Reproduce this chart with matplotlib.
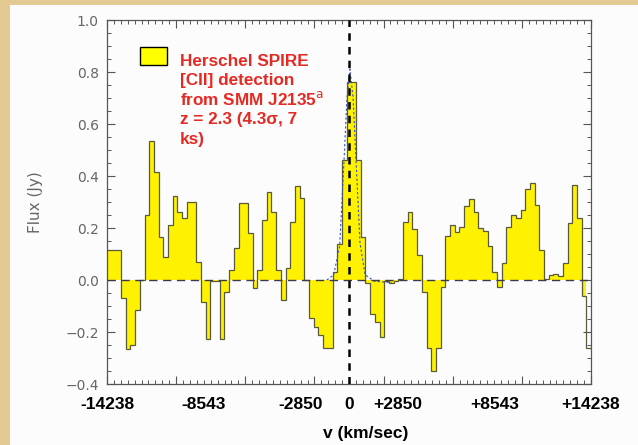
import numpy as np
import matplotlib
matplotlib.use("Agg")
from matplotlib import pyplot as plt
from matplotlib.patches import Rectangle
from matplotlib.ticker import FixedLocator, MultipleLocator
import matplotlib.transforms as mtransforms

# SPIRE FTS spectrum, flux per channel (Jy), channels span the full velocity window
v_min, v_max = -14238, 14238
flux = [
    0.115, 0.115, 0.115, -0.07, -0.265, -0.25, -0.115, 0.0, 0.25, 0.535,
    0.415, 0.165, 0.09, 0.21, 0.325, 0.26, 0.24, 0.30, 0.30, 0.07,
    -0.085, -0.225, -0.005, -0.005, -0.225, -0.045, 0.04, 0.125, 0.295, 0.295,
    0.18, -0.03, 0.04, 0.23, 0.34, 0.26, 0.04, -0.075, 0.045, 0.225,
    0.36, 0.315, 0.0, -0.145, -0.18, -0.21, -0.26, -0.26, 0.03, 0.14,
    0.46, 0.76, 0.76, 0.46, 0.165, -0.01, -0.13, -0.16, -0.22, -0.005,
    -0.01, -0.005, 0.005, 0.225, 0.26, 0.195, 0.095, -0.045, -0.26, -0.35,
    -0.26, -0.025, 0.17, 0.21, 0.185, 0.205, 0.285, 0.31, 0.26, 0.2,
    0.19, 0.13, 0.03, -0.025, 0.065, 0.205, 0.25, 0.24, 0.27, 0.35,
    0.375, 0.29, 0.115, 0.005, 0.02, 0.025, 0.015, 0.065, 0.22, 0.365,
    0.24, -0.06, -0.26,
]

# line fit around the [CII] peak
fit_v = [-1300, -900, -550, -300, -120, 60, 240, 420, 650, 950, 1500, 2500]
fit_flux = [0.0, 0.02, 0.13, 0.45, 0.70, 0.81, 0.70, 0.45, 0.14, 0.02, -0.005, -0.01]

vel_ticks = [-14238, -8543, -2850, 0, 2850, 8543, 14238]
vel_labels = ["-14238", "-8543", "-2850", "0", "+2850", "+8543", "+14238"]

caption = ["Herschel SPIRE", "[CII] detection", "from SMM J2135$^{\\rm a}$",
           "z = 2.3 (4.3σ, 7", "ks)"]

edges = np.linspace(v_min, v_max, len(flux) + 1)

fig = plt.figure(figsize=(6.38, 4.45), dpi=100)
fig.patch.set_facecolor("#e3ca93")
fig.add_artist(Rectangle((10 / 638, 0), 1, 1 - 5 / 445, transform=fig.transFigure,
                         facecolor="#fcfcfc", edgecolor="none", zorder=0))

ax = fig.add_axes([107 / 638, 1 - 384 / 445, 484 / 638, 364 / 445])
ax.set_facecolor("#fcfcfc")

# yellow filled channels (last channel only outlined)
ax.stairs(flux[:-1], edges[:-1], baseline=0, fill=True, color="#fff200", zorder=2)
ax.stairs(flux, edges, baseline=None, color="#5a5a3a", lw=0.9, zorder=3)

ax.plot(fit_v, fit_flux, color="#3050c0", lw=0.8, ls=(0, (2, 2)), zorder=4)
ax.axhline(0, color="#3a3a4a", lw=1.0, ls=(0, (6, 4)), zorder=4)
ax.axvline(0, color="black", lw=1.8, ls=(0, (3, 2.5)), zorder=5)

ax.set_xlim(v_min, v_max)
ax.set_ylim(-0.4, 1.0)

# IDL style ticks on all four sides
step = (v_max - v_min) / 70
ax.xaxis.set_major_locator(FixedLocator(v_min + step * 10 * np.arange(8)))
ax.xaxis.set_minor_locator(FixedLocator(v_min + step * np.arange(71)))
ax.yaxis.set_major_locator(MultipleLocator(0.2))
ax.yaxis.set_minor_locator(MultipleLocator(0.05))
ax.tick_params(which="both", direction="in", top=True, right=True, colors="#555555")
ax.tick_params(which="major", length=6, width=0.8)
ax.tick_params(which="minor", length=3, width=0.7)
ax.tick_params(axis="x", labelbottom=False)
ax.tick_params(axis="y", labelsize=10, labelcolor="#666666", pad=6)
ax.set_yticklabels([f"{t:.1f}".replace("-", "\u2212") for t in ax.get_yticks()])
for s in ax.spines.values():
    s.set_color("#555555")
    s.set_linewidth(0.9)

ax.set_ylabel("Flux (Jy)", fontsize=11, color="#666666", labelpad=16)

trans = mtransforms.blended_transform_factory(ax.transData, ax.transAxes)
for v, lab in zip(vel_ticks, vel_labels):
    ax.text(v, -0.055, lab, transform=trans, ha="center", va="center",
            fontsize=12.5, fontweight="bold", family="Liberation Sans")
ax.text(0.535, -0.135, "v (km/sec)", transform=ax.transAxes, ha="center", va="center",
        fontsize=12.5, fontweight="bold", family="Liberation Sans", clip_on=False)

# legend box and caption
ax.add_patch(Rectangle((0.068, 0.876), 0.056, 0.05, transform=ax.transAxes,
                       facecolor="#ffff00", edgecolor="black", lw=1.0, zorder=6))
for k, line in enumerate(caption):
    ax.text(0.151, 0.874 - 0.0536 * k, line, transform=ax.transAxes, ha="left",
            va="baseline", fontsize=12.3, fontweight="bold", color="#e52a24",
            family="Liberation Sans", zorder=6)

fig.savefig("out.png", dpi=100, facecolor=fig.get_facecolor())
